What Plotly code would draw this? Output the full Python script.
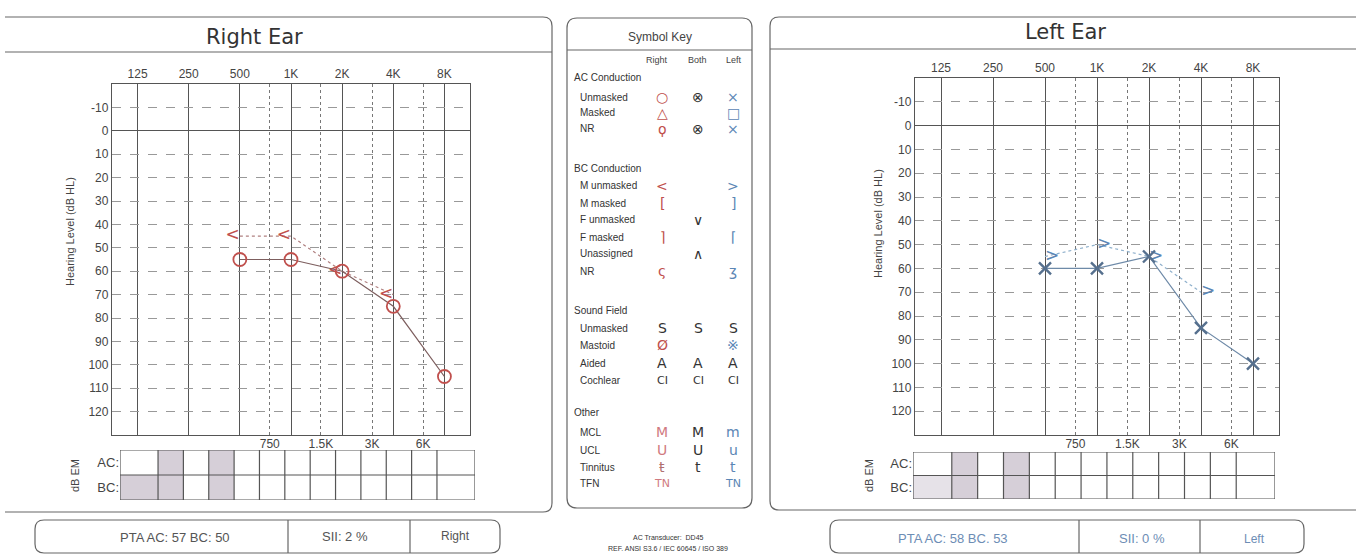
import math
import plotly.graph_objects as go

W, H = 1356, 560

# ---------------- data ----------------
FREQ_TICKS = [125, 250, 500, 1000, 2000, 4000, 8000]
FREQ_LABELS = ["125", "250", "500", "1K", "2K", "4K", "8K"]
MID_TICKS = [750, 1500, 3000, 6000]
MID_LABELS = ["750", "1.5K", "3K", "6K"]
DB_TICKS = list(range(-10, 121, 10))
DB_LABELS = [str(v) for v in DB_TICKS]

R_AC_FREQ = [500, 1000, 2000, 4000, 8000]
R_AC_DB = [55, 55, 60, 75, 105]
R_BC_FREQ = [500, 1000, 2000, 4000]
R_BC_DB = [45, 45, 60, 70]

L_AC_FREQ = [500, 1000, 2000, 4000, 8000]
L_AC_DB = [60, 60, 55, 85, 100]
L_BC_FREQ = [500, 1000, 2000, 4000]
L_BC_DB = [55, 50, 55, 70]

MASK_COL_WIDTHS = [1.5] + [1] * 11 + [1.5]
R_MASK_AC = [0, 1, 0, 1, 0, 0, 0, 0, 0, 0, 0, 0, 0]
R_MASK_BC = [1, 1, 0, 1, 0, 0, 0, 0, 0, 0, 0, 0, 0]
L_MASK_AC = [0, 1, 0, 1, 0, 0, 0, 0, 0, 0, 0, 0, 0]
L_MASK_BC = [0.6, 1, 0, 1, 0, 0, 0, 0, 0, 0, 0, 0, 0]

R_SUMMARY = ["PTA AC: 57 BC: 50", "SII: 2 %", "Right"]
L_SUMMARY = ["PTA AC: 58 BC. 53", "SII: 0 %", "Left"]

KEY_LABELS = ["AC Conduction", "Unmasked", "Masked", "NR",
              "BC Conduction", "M unmasked", "M masked", "F unmasked", "F masked", "Unassigned", "NR",
              "Sound Field", "Unmasked", "Mastoid", "Aided", "Cochlear",
              "Other", "MCL", "UCL", "Tinnitus", "TFN"]
KEY_IS_HEADER = [1, 0, 0, 0, 1, 0, 0, 0, 0, 0, 0, 1, 0, 0, 0, 0, 1, 0, 0, 0, 0]
KEY_RIGHT = ["", "○", "△", "ϙ", "", "<", "[", "", "⌉", "", "ς", "", "S", "Ø", "A", "CI", "", "M", "U", "ŧ", "TN"]
KEY_BOTH = ["", "⊗", "", "⊗", "", "", "", "∨", "", "∧", "", "", "S", "", "A", "CI", "", "M", "U", "t", ""]
KEY_LEFT = ["", "×", "□", "×", "", ">", "]", "", "⌈", "", "ʒ", "", "S", "※", "A", "CI", "", "m", "u", "t", "TN"]
KEY_Y = [78, 97, 113, 129, 168, 186, 203, 220, 237, 254, 271, 310, 328, 345, 363, 380, 412, 432, 450, 467, 483]

RED = "#c0504d"
BLUE = "#5b86b5"
DARK = "#333333"
KEY_RIGHT_COLOR = [RED] * 11 + [DARK, DARK, RED, DARK, DARK, DARK, "#d07a80", "#d07a80", "#b07070", "#d07a80"]
KEY_LEFT_COLOR = [BLUE] * 11 + [DARK, DARK, BLUE, DARK, DARK, DARK, BLUE, BLUE, BLUE, BLUE]

FONT = "Liberation Sans, Arial, sans-serif"
GRID = "#555555"
TXT = "#444444"


def fx(x):
    return x / W


def fy(y):
    return 1 - y / H


def P(x, y):
    return f"{fx(x):.5f},{fy(y):.5f}"


LOG_RANGE = [math.log10(125 / math.sqrt(2)), math.log10(8000 * math.sqrt(2))]

fig = go.Figure()

# ---------------- right ear ----------------
fig.add_trace(go.Scatter(x=R_BC_FREQ, y=R_BC_DB, mode="lines+text", text=["<"] * len(R_BC_FREQ),
                         textposition="middle left", textfont=dict(size=17, color=RED, family="DejaVu Sans"),
                         line=dict(color="#b08080", width=1.2, dash="dot"), xaxis="x", yaxis="y",
                         cliponaxis=False, hoverinfo="skip"))
fig.add_trace(go.Scatter(x=R_AC_FREQ, y=R_AC_DB, mode="lines+markers",
                         line=dict(color="#7d5e5e", width=1.2),
                         marker=dict(symbol="circle-open", size=13, color=RED, line=dict(width=1.8)),
                         xaxis="x", yaxis="y", cliponaxis=False, hoverinfo="skip"))
fig.add_trace(go.Scatter(x=MID_TICKS, y=[None] * 4, mode="markers", xaxis="x2", yaxis="y",
                         hoverinfo="skip"))

# ---------------- left ear ----------------
fig.add_trace(go.Scatter(x=L_BC_FREQ, y=L_BC_DB, mode="lines+text", text=[">"] * len(L_BC_FREQ),
                         textposition="middle right", textfont=dict(size=17, color=BLUE, family="DejaVu Sans"),
                         line=dict(color="#8fb0cc", width=1.2, dash="dot"), xaxis="x3", yaxis="y2",
                         cliponaxis=False, hoverinfo="skip"))
fig.add_trace(go.Scatter(x=L_AC_FREQ, y=L_AC_DB, mode="lines+markers",
                         line=dict(color="#6e8aa8", width=1.2),
                         marker=dict(symbol="x-thin", size=12, color="#56708e", line=dict(width=2.4, color="#56708e")),
                         xaxis="x3", yaxis="y2", cliponaxis=False, hoverinfo="skip"))
fig.add_trace(go.Scatter(x=MID_TICKS, y=[None] * 4, mode="markers", xaxis="x4", yaxis="y2",
                         hoverinfo="skip"))

# ---------------- masking tables ----------------
edges = [0]
for w in MASK_COL_WIDTHS:
    edges.append(edges[-1] + w)
STIPPLE = [[0, "white"], [1, "#d6cfd8"]]
fig.add_trace(go.Heatmap(x=edges, y=[0, 1, 2], z=[R_MASK_BC, R_MASK_AC], colorscale=STIPPLE, zmin=0, zmax=1,
                         showscale=False, xaxis="x5", yaxis="y3", hoverinfo="skip"))
fig.add_trace(go.Heatmap(x=edges, y=[0, 1, 2], z=[L_MASK_BC, L_MASK_AC], colorscale=STIPPLE, zmin=0, zmax=1,
                         showscale=False, xaxis="x6", yaxis="y4", hoverinfo="skip"))

shapes = []
for xr, yr in (("x5", "y3"), ("x6", "y4")):
    for e in edges:
        shapes.append(dict(type="line", xref=xr, yref=yr, x0=e, x1=e, y0=0, y1=2,
                           line=dict(color="#555", width=1.2), layer="above"))
    for r in (0, 1, 2):
        shapes.append(dict(type="line", xref=xr, yref=yr, x0=0, x1=edges[-1], y0=r, y1=r,
                           line=dict(color="#555", width=1.2), layer="above"))

# ---------------- panels ----------------
LINE = dict(color="#666", width=1.2)


def open_path(pts):
    """Open polyline/curve drawn forward then back, so no closing edge appears."""
    fwd = " ".join(pts)
    return fwd


def hline(x0, x1, y):
    shapes.append(dict(type="line", xref="paper", yref="paper", x0=fx(x0), x1=fx(x1), y0=fy(y), y1=fy(y), line=LINE))


def vline(x, y0, y1):
    shapes.append(dict(type="line", xref="paper", yref="paper", x0=fx(x), x1=fx(x), y0=fy(y0), y1=fy(y1), line=LINE))


def corner(xa, ya, xc, yc, xb, yb):
    shapes.append(dict(type="path", xref="paper", yref="paper", line=LINE,
                       path=f"M {P(xa,ya)} Q {P(xc,yc)} {P(xb,yb)} Q {P(xc,yc)} {P(xa,ya)}"))


# right panel (open on the left)
hline(5, 543, 17)
corner(543, 17, 552, 17, 552, 26)
vline(552, 26, 503)
corner(552, 503, 552, 512, 543, 512)
hline(5, 543, 512)
hline(5, 552, 52)
# left panel (open on the right)
hline(779, 1356, 17)
corner(779, 17, 770, 17, 770, 26)
vline(770, 26, 501)
corner(770, 501, 770, 510, 779, 510)
hline(779, 1356, 510)
hline(770, 1356, 49)
# symbol key box
shapes.append(dict(type="path", xref="paper", yref="paper", line=LINE,
                   path=(f"M {P(577,18)} L {P(742,18)} Q {P(752,18)} {P(752,28)} L {P(752,498)} Q {P(752,508)} {P(742,508)} "
                         f"L {P(577,508)} Q {P(567,508)} {P(567,498)} L {P(567,28)} Q {P(567,18)} {P(577,18)} Z")))
hline(567, 752, 50)


# summary boxes
def summary_box(x0, x1, d1, d2, y0=520, y1=553, r=9):
    shapes.append(dict(type="path", xref="paper", yref="paper", line=LINE,
                       path=(f"M {P(x0+r,y0)} L {P(x1-r,y0)} Q {P(x1,y0)} {P(x1,y0+r)} L {P(x1,y1-r)} Q {P(x1,y1)} {P(x1-r,y1)} "
                             f"L {P(x0+r,y1)} Q {P(x0,y1)} {P(x0,y1-r)} L {P(x0,y0+r)} Q {P(x0,y0)} {P(x0+r,y0)} Z")))
    for d in (d1, d2):
        vline(d, y0, y1)


summary_box(35, 500, 288, 410)
summary_box(830, 1304, 1079, 1200)

# ---------------- annotations ----------------
ann = []


def text(x, y, s, size=11, color=TXT, anchor="center", angle=0, family=FONT):
    ann.append(dict(x=fx(x), y=fy(y), xref="paper", yref="paper", text=s, showarrow=False,
                    xanchor=anchor, yanchor="middle", textangle=angle,
                    font=dict(size=size, color=color, family=family)))


text(255, 37, "Right Ear", size=21, color="#333", family="DejaVu Sans")
text(1065, 32, "Left Ear", size=21, color="#333", family="DejaVu Sans")
text(70, 232, "Hearing Level (dB HL)", size=11, angle=-90)
text(878, 224, "Hearing Level (dB HL)", size=11, angle=-90)
text(75, 476, "dB EM", size=11, angle=-90)
text(869, 476, "dB EM", size=11, angle=-90)

# symbol key
text(660, 37, "Symbol Key", size=12)
text(657, 60, "Right", size=9)
text(697, 60, "Both", size=9)
text(734, 60, "Left", size=9)
for lab, hdr, yv, rs, bs, ls, rc, lc in zip(KEY_LABELS, KEY_IS_HEADER, KEY_Y, KEY_RIGHT, KEY_BOTH, KEY_LEFT,
                                             KEY_RIGHT_COLOR, KEY_LEFT_COLOR):
    text(572 if hdr else 578, yv, lab, size=10, color="#333", anchor="left")
    if rs:
        text(662, yv, rs, size=14 if len(rs) == 1 else 11, color=rc, family="DejaVu Sans")
    if bs:
        text(698, yv, bs, size=14 if len(bs) == 1 else 11, color=DARK, family="DejaVu Sans")
    if ls:
        text(733, yv, ls, size=14 if len(ls) == 1 else 11, color=lc, family="DejaVu Sans")

text(668, 537, "AC Transducer:  DD45", size=7, color="#333")
text(668, 548, "REF. ANSI S3.6 / IEC 60645 / ISO 389", size=7, color="#333")

# summaries
text(175, 537, R_SUMMARY[0], size=13, color="#555")
text(345, 536, R_SUMMARY[1], size=13, color="#555")
text(455, 536, R_SUMMARY[2], size=12, color="#555")
text(953, 538, L_SUMMARY[0], size=13, color="#6d8db5")
text(1142, 538, L_SUMMARY[1], size=13, color="#6d8db5")
text(1254, 539, L_SUMMARY[2], size=12, color="#6d8db5")

# ---------------- axes ----------------
tickfont = dict(size=12, color=TXT, family=FONT)


def main_x(domain, anchor):
    return dict(domain=domain, type="log", range=LOG_RANGE, side="top", tickvals=FREQ_TICKS, ticktext=FREQ_LABELS,
                showgrid=True, gridcolor=GRID, gridwidth=1.3, showline=True, mirror=True, linecolor=GRID,
                linewidth=1.3, ticks="", tickfont=tickfont, anchor=anchor, zeroline=False, fixedrange=True)


def mid_x(over, anchor):
    return dict(overlaying=over, type="log", range=LOG_RANGE, side="bottom", tickvals=MID_TICKS, ticktext=MID_LABELS,
                showgrid=True, griddash="dot", gridcolor="#777", gridwidth=1, showline=False, ticks="",
                tickfont=tickfont, anchor=anchor, zeroline=False, fixedrange=True)


def main_y(domain, anchor):
    return dict(domain=domain, range=[130, -20], tickvals=DB_TICKS, ticktext=DB_LABELS, showgrid=True,
                griddash="dash", gridcolor="#999", gridwidth=1, zeroline=True, zerolinecolor="#555",
                zerolinewidth=1.3, showline=True, mirror=True, linecolor=GRID, linewidth=1.3, ticks="",
                tickfont=tickfont, anchor=anchor, fixedrange=True)


def tab_x(domain, anchor):
    return dict(domain=domain, range=[0, edges[-1]], showgrid=False, zeroline=False, showticklabels=False,
                anchor=anchor, fixedrange=True)


def tab_y(domain, anchor):
    return dict(domain=domain, range=[0, 2], tickvals=[0.5, 1.5], ticktext=["BC:", "AC:"], showgrid=False,
                zeroline=False, ticks="", tickfont=dict(size=13, color=TXT, family=FONT), anchor=anchor,
                fixedrange=True)


fig.update_layout(
    width=W, height=H, autosize=False, margin=dict(l=0, r=0, t=0, b=0),
    paper_bgcolor="white", plot_bgcolor="white", showlegend=False,
    xaxis=main_x([fx(112), fx(470)], "y"),
    xaxis2=mid_x("x", "y"),
    yaxis=main_y([fy(435), fy(84)], "x"),
    xaxis3=main_x([fx(915), fx(1279)], "y2"),
    xaxis4=mid_x("x3", "y2"),
    yaxis2=main_y([fy(435), fy(78)], "x3"),
    xaxis5=tab_x([fx(120), fx(475)], "y3"),
    yaxis3=tab_y([fy(500), fy(450)], "x5"),
    xaxis6=tab_x([fx(913), fx(1275)], "y4"),
    yaxis4=tab_y([fy(499), fy(452)], "x6"),
    shapes=shapes, annotations=ann,
)

fig.write_html("out.html", config={"displayModeBar": False},
               post_script="document.body.style.margin='0px';document.body.style.overflow='hidden';")
